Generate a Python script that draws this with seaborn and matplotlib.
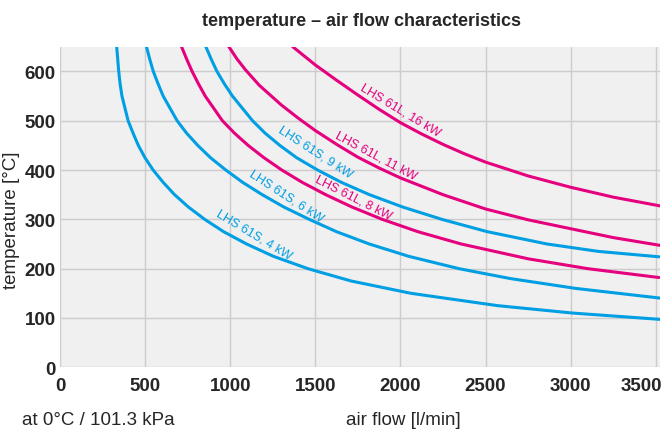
import numpy as np
import pandas as pd
import matplotlib
matplotlib.use("Agg")
import matplotlib.pyplot as plt
import matplotlib.transforms as mtransforms
import seaborn as sns

# ------------------------------------------------------
# data (air flow l/min, temperature °C)
# ------------------------------------------------------
flow_s4 = [333, 339, 345, 353, 364, 400, 429, 460, 499, 547, 606, 673, 754, 850, 961,
           1096, 1254, 1456, 1710, 2062, 2571, 3011, 3532]
temp_s4 = [650, 625, 600, 575, 550, 500, 475, 450, 425, 400, 375, 350, 325, 300, 275,
           250, 225, 200, 175, 150, 125, 110, 97]

flow_s6 = [508, 527, 548, 576, 606, 688, 743, 809, 884, 974, 1073, 1188, 1315, 1464,
           1624, 1817, 2049, 2344, 2644, 3029, 3533]
temp_s6 = [650, 625, 600, 575, 550, 500, 475, 450, 425, 400, 375, 350, 325, 300,
           275, 250, 225, 200, 180, 160, 140]

flow_l8 = [714, 744, 776, 813, 853, 954, 1024, 1105, 1198, 1303, 1423, 1561, 1715, 1893,
           2102, 2357, 2750, 3100, 3519]
temp_l8 = [650, 625, 600, 575, 550, 500, 475, 450, 425, 400, 375, 350, 325, 300,
           275, 250, 220, 200, 182]

flow_s9 = [857, 888, 922, 965, 1013, 1131, 1204, 1291, 1390, 1513, 1653, 1818, 2013,
           2243, 2510, 2861, 3163, 3520]
temp_s9 = [650, 625, 600, 575, 550, 500, 475, 450, 425, 400, 375, 350, 325,
           300, 275, 250, 235, 224]

flow_l11 = [992, 1040, 1090, 1170, 1300, 1400, 1500, 1625, 1750, 1875, 2000, 2250, 2500,
            2750, 3000, 3250, 3529]
temp_l11 = [650, 625, 603, 572, 532, 505, 480, 452, 426, 404, 384, 350, 321,
            299, 281, 263, 247]

flow_l16 = [1367, 1500, 1625, 1750, 1875, 2000, 2125, 2250, 2375, 2500, 2750, 3000, 3250, 3529]
temp_l16 = [650, 613, 582, 552, 523, 496, 473, 452, 433, 416, 388, 365, 345, 327]

curve_names = ["LHS 61S, 4 kW", "LHS 61S, 6 kW", "LHS 61L, 8 kW",
               "LHS 61S, 9 kW", "LHS 61L, 11 kW", "LHS 61L, 16 kW"]
curve_flows = [flow_s4, flow_s6, flow_l8, flow_s9, flow_l11, flow_l16]
curve_temps = [temp_s4, temp_s6, temp_l8, temp_s9, temp_l11, temp_l16]

x_ticks = [0, 500, 1000, 1500, 2000, 2500, 3000, 3500]
y_ticks = [0, 100, 200, 300, 400, 500, 600]

BLUE = "#009fe3"
MAGENTA = "#e5007d"
palette = {n: (BLUE if "61S" in n else MAGENTA) for n in curve_names}

# label anchors (flow, temp, rotation in screen degrees)
label_pos = {
    "LHS 61S, 4 kW": (1141, 269, -31),
    "LHS 61S, 6 kW": (1332, 349, -33),
    "LHS 61S, 9 kW": (1500, 437, -33),
    "LHS 61L, 8 kW": (1725, 346, -27),
    "LHS 61L, 11 kW": (1854, 430, -28),
    "LHS 61L, 16 kW": (2002, 523, -31),
}

rows = []
for name, fl, tp in zip(curve_names, curve_flows, curve_temps):
    for f, t in zip(fl, tp):
        rows.append({"curve": name, "flow": f, "temp": t})
df = pd.DataFrame(rows)

# ------------------------------------------------------
# style
# ------------------------------------------------------
sns.set_style("whitegrid", {
    "axes.facecolor": "#f0f0f0",
    "grid.color": "#cccccc",
    "axes.edgecolor": "#f0f0f0",
})
plt.rcParams['font.family'] = ['Liberation Sans', 'DejaVu Sans']

fig = plt.figure(figsize=(6.67, 4.35), dpi=100)
ax = fig.add_axes([60 / 667, 1 - 368.3 / 435, 600 / 667, 320.6 / 435])

sns.lineplot(data=df, x="flow", y="temp", hue="curve", palette=palette,
             hue_order=curve_names, estimator=None, sort=False,
             linewidth=2.2, legend=False, ax=ax)

ax.set_xlim(0, 3525)
ax.set_ylim(0, 650)
ax.set_xticks(x_ticks)
ax.set_yticks(y_ticks)
ax.grid(True, color="#cccccc", linewidth=1.0)
for s in ax.spines.values():
    s.set_visible(False)
ax.tick_params(axis="x", length=0, pad=7, labelsize=13.5)
ax.tick_params(axis="y", length=0, pad=3, labelsize=13.5)
for lab in ax.get_xticklabels() + ax.get_yticklabels():
    lab.set_fontweight("bold")
# last x label sits flush with the right edge
last = ax.get_xticklabels()[-1]
last.set_horizontalalignment("right")
last.set_transform(last.get_transform() +
                   mtransforms.ScaledTranslation(6 / 100, 0, fig.dpi_scale_trans))
ax.set_xlabel("")
ax.set_ylabel("")

for name in curve_names:
    fx, ty, rot = label_pos[name]
    ax.text(fx, ty, name, color=palette[name], fontsize=9, rotation=rot,
            rotation_mode="anchor", ha="center", va="center")

fig.text(361 / 667, 1 - 22 / 435, "temperature – air flow characteristics",
         ha="center", va="center", fontsize=13, fontweight="bold")
fig.text(12 / 667, 1 - 220 / 435, "temperature [°C]", rotation=90,
         ha="center", va="center", fontsize=13.5)
fig.text(98 / 667, 1 - 421 / 435, "at 0°C / 101.3 kPa",
         ha="center", va="center", fontsize=13.5)
fig.text(403 / 667, 1 - 421 / 435, "air flow [l/min]",
         ha="center", va="center", fontsize=13.5)

fig.savefig("out.png", dpi=100)
